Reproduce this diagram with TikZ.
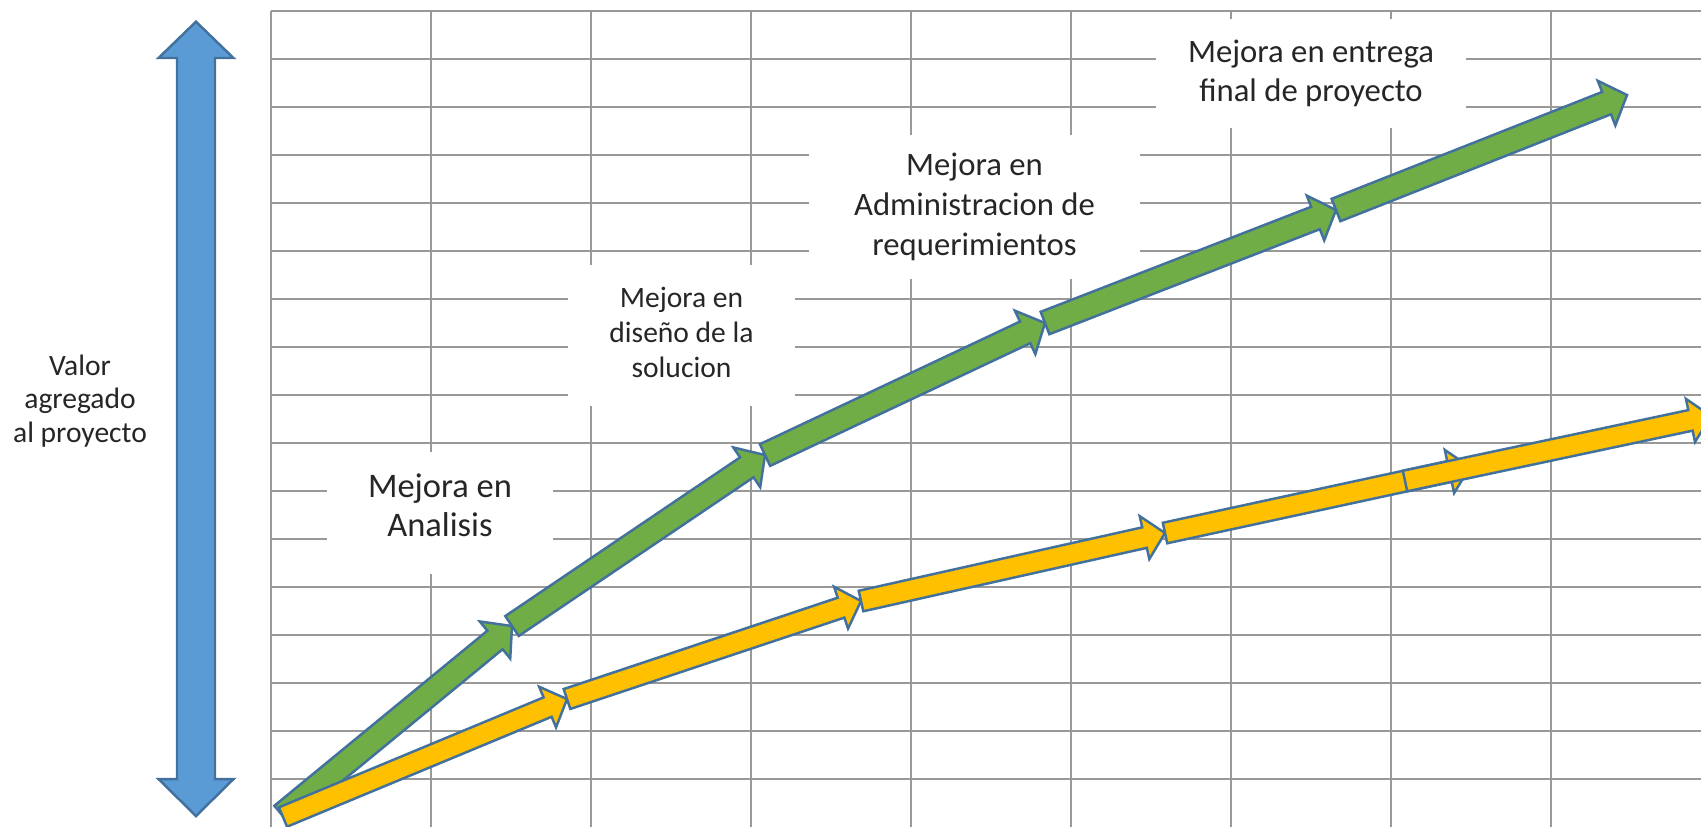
\documentclass[tikz,border=0pt]{standalone}
\usepackage{fontspec}
\setmainfont{Carlito}
\usepackage{tikz}
\usetikzlibrary{calc}
\definecolor{gridgray}{HTML}{999999}
\definecolor{edgeblue}{HTML}{41719C}
\definecolor{axisblue}{HTML}{5B9BD5}
\definecolor{leafgreen}{HTML}{70AD47}
\definecolor{gold}{HTML}{FFC000}
\definecolor{ink}{HTML}{262626}
\tikzstyle{cell}=[draw=gridgray,line width=0.65pt]
\tikzstyle{segline}=[draw=edgeblue,line width=0.7pt,line join=miter]
\tikzstyle{mejora}=[fill=white,text=ink,align=center,inner sep=0pt]
\tikzstyle{mejoratxt}=[text=ink,align=center,inner sep=0pt]
% block arrow: colour, tail, tip, half shaft, half head, head length
\newcommand{\segarrow}[6]{%
  \coordinate (hb) at ($(#3)!#6!(#2)$);
  \draw[segline,fill=#1] ($(#2)!#4!90:(#3)$) -- ($(hb)!#4!90:(#3)$) -- ($(hb)!#5!90:(#3)$)
    -- (#3) -- ($(hb)!#5!-90:(#3)$) -- ($(hb)!#4!-90:(#3)$) -- ($(#2)!#4!-90:(#3)$) -- cycle;
}

\begin{document}
\begin{tikzpicture}[x=0.01cm,y=-0.01cm]
\useasboundingbox (0,0) rectangle (1701,826);
\clip (0,0) rectangle (1701,826);
\fill[white] (0,0) rectangle (1701,826);
% grid
\foreach \r in {0,...,16}
  \draw[cell] (270.7,{10.7+48*\r}) -- (1710,{10.7+48*\r});
\foreach \c in {0,...,8}
  \draw[cell] ({270.7+160*\c},10.7) -- ({270.7+160*\c},830);
% labels
\node[mejoratxt,font=\fontsize{8.4}{9.6}\selectfont] (valor) at (80,401) {Valor\\agregado\\al proyecto};
\node[mejora,minimum width=2.25cm,minimum height=1.22cm] (analisis) at (440,513) {};
\node[mejoratxt,font=\fontsize{9.8}{10.95}\selectfont] (analisistxt) at (440,505) {Mejora en\\Analisis};
\node[mejora,minimum width=2.27cm,minimum height=1.41cm] (diseno) at (681.5,335.5) {};
\node[mejoratxt,font=\fontsize{8.4}{9.96}\selectfont] (disenotxt) at (681.5,332.5) {Mejora en\\diseño de la\\solucion};
\node[mejora,minimum width=3.31cm,minimum height=1.43cm,font=\fontsize{9.3}{11.4}\selectfont] (admin) at (974.5,207) {Mejora en\\Administracion de\\requerimientos};
\node[mejora,minimum width=3.1cm,minimum height=1.09cm,font=\fontsize{9.3}{10.9}\selectfont] (entrega) at (1311,73.5) {Mejora en entrega\\final de proyecto};
% value axis
\draw[segline,fill=axisblue] (196,21.7) -- (233.5,58) -- (215,58) -- (215,779) -- (233.5,779)
  -- (196,816) -- (158.5,779) -- (177,779) -- (177,58) -- (158.5,58) -- cycle;
% green path
\coordinate (g0) at (282,815);
\coordinate (g1) at (512,626);
\coordinate (g2) at (765,455);
\coordinate (g3) at (1045,323);
\coordinate (g4) at (1336,210);
\coordinate (g5) at (1627,95);
\foreach \a/\b in {g0/g1,g1/g2,g2/g3,g3/g4,g4/g5}{
  \segarrow{leafgreen}{\a}{\b}{0.12cm}{0.24cm}{0.22cm}
}
% yellow path
\coordinate (y0) at (283,817);
\coordinate (y1) at (567,699);
\coordinate (y2) at (861,601);
\coordinate (y3) at (1165,533);
\coordinate (y4) at (1470,467);
\coordinate (y4s) at (1405,481);
\coordinate (y5) at (1711,416);
\foreach \a/\b in {y0/y1,y1/y2,y2/y3,y3/y4,y4s/y5}{
  \segarrow{gold}{\a}{\b}{0.105cm}{0.22cm}{0.21cm}
}
\end{tikzpicture}
\end{document}
